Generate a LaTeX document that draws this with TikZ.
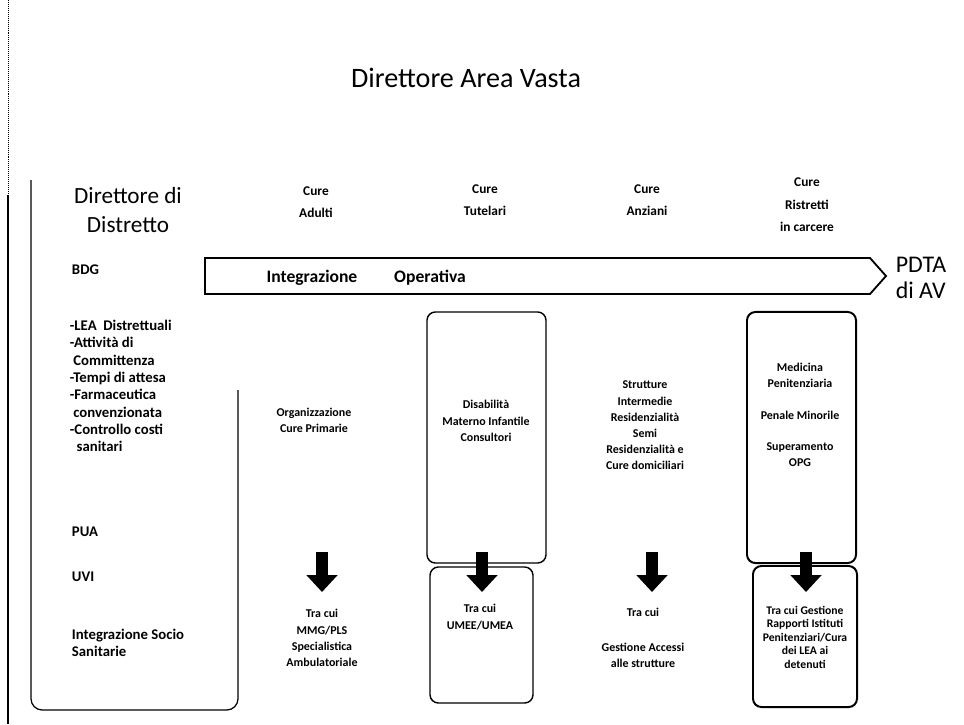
\documentclass[tikz,border=0pt]{standalone}
\usepackage{fontspec}
\setmainfont{Carlito}
\usetikzlibrary{arrows.meta}

\begin{document}
\begin{tikzpicture}[x=0.025cm,y=-0.025cm,
	title/.style={font=\fontsize{20}{22}\selectfont},
	chief/.style={font=\fontsize{16.5}{20.5}\selectfont, align=center},
	duty/.style={font=\bfseries\fontsize{10.5}{12.3}\selectfont, align=left, anchor=west},
	colhead/.style={font=\bfseries\fontsize{9.5}{16}\selectfont, align=center},
	band/.style={font=\bfseries\fontsize{12.5}{14}\selectfont},
	pdta/.style={font=\fontsize{17}{19}\selectfont, align=left},
	info/.style={font=\bfseries\fontsize{8.5}{11.5}\selectfont, align=center},
	tight/.style={font=\bfseries\fontsize{8.3}{9.6}\selectfont, align=center},
	colbox/.style={draw, rounded corners=6pt, line width=1pt, inner sep=0pt},
	downarr/.style={line width=0.3cm, -{Triangle[width=0.75cm,length=0.42cm]}}]
					\useasboundingbox (0,0) rectangle (964,724);
					\draw[line width=1.2pt] (8,195) -- (8,724);
					\draw[densely dotted] (8,0) -- (8,195);
					\node[title] (area) at (466,78) {Direttore Area Vasta};
					\draw[line width=0.9pt, rounded corners=8pt] (238,390) -- (238,710) -- (31,710) -- (31,180);
					\node[chief] (distr) at (128,210) {Direttore di\\Distretto};
					\node[duty] (bdg) at (67,270) {BDG};
					\node[duty] (lea) at (65,386) {-LEA\ \ Distrettuali\\-Attività di\\\ Committenza\\-Tempi di attesa\\-Farmaceutica\\\ convenzionata\\-Controllo costi\\\ \ sanitari};
					\node[duty] (pua) at (67,532) {PUA};
					\node[duty] (uvi) at (67,577) {UVI};
					\node[duty] (iss) at (67,643) {Integrazione Socio\\Sanitarie};
					\node[colhead] (adulti) at (316,202) {Cure\\Adulti};
					\node[colhead] (tutel) at (485,200) {Cure\\Tutelari};
					\node[colhead] (anziani) at (647,200) {Cure\\Anziani};
					\node[colhead] (ristr) at (807,205) {Cure\\Ristretti\\in carcere};
					\draw[line width=1.3pt, line join=miter] (205,258) -- (870,258) -- (886,276) -- (870,294) -- (205,294) -- cycle;
					\node[band] (integr) at (312,278) {Integrazione};
					\node[band] (operat) at (430,278) {Operativa};
					\node[pdta] (pdtaav) at (921,278) {PDTA\\di AV};
					\node[colbox, minimum width=2.975cm, minimum height=6.275cm] (tutbox) at (486.5,437.5) {};
					\node[colbox, minimum width=2.575cm, minimum height=3.4cm] (tutlow) at (481.5,635) {};
					\node[colbox, line width=1.4pt, minimum width=2.725cm, minimum height=6.275cm] (ribox) at (801.5,437.5) {};
					\node[colbox, line width=1.4pt, minimum width=2.6cm, minimum height=3.525cm] (rilow) at (805,636.5) {};
					\node[info] (orga) at (314,420) {Organizzazione\\Cure Primarie};
					\node[info] (disab) at (486,421) {Disabilità\\Materno Infantile\\Consultori};
					\node[info] (strut) at (645,425.5) {Strutture\\Intermedie\\Residenzialità\\Semi\\Residenzialità e\\Cure domiciliari};
					\node[info] (medic) at (800,415) {Medicina\\Penitenziaria\\[11pt]Penale Minorile\\[11pt]Superamento\\OPG};
					\node[info] (mmg) at (322,638) {Tra cui\\MMG/PLS\\Specialistica\\Ambulatoriale};
					\node[info] (umee) at (480,617) {Tra cui\\UMEE/UMEA};
					\node[info] (tracui) at (643,612) {Tra cui};
					\node[info] (gest) at (643,655) {Gestione Accessi\\alle strutture};
					\node[tight] (rapp) at (805,637) {Tra cui Gestione\\Rapporti Istituti\\Penitenziari/Cura\\dei LEA ai\\detenuti};
					\coordinate (a1) at (322,552);
					\coordinate (a2) at (322,592);
					\coordinate (t1) at (482,552);
					\coordinate (t2) at (482,592);
					\coordinate (n1) at (652,552);
					\coordinate (n2) at (652,592);
					\coordinate (r1) at (806,552);
					\coordinate (r2) at (806,592);
					\draw[downarr] (a1) to (a2);
					\draw[downarr] (t1) to (t2);
					\draw[downarr] (n1) to (n2);
					\draw[downarr] (r1) to (r2);
				\end{tikzpicture}
\end{document}
